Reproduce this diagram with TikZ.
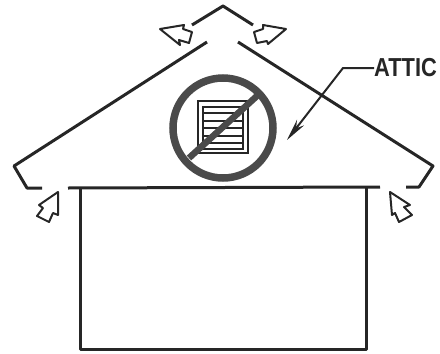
\documentclass[tikz,border=0pt]{standalone}
\usepackage{fontspec}
\setmainfont{Liberation Sans}
\usetikzlibrary{arrows.meta}
\definecolor{ink}{HTML}{262626}
\definecolor{slash}{HTML}{4A4A4A}
\newcommand{\LabelF}{\fontsize{26}{30}\selectfont}
\newcommand{\ventarrow}[1]{%
  \draw[ink, line width=2pt, line join=round] #1 -- cycle;
}
\tikzset{
  wall/.style={ink, line width=3pt, line join=round},
  louver/.style={ink, line width=1.2pt},
}
\begin{document}
\begin{tikzpicture}[x=1pt,y=-1pt]
\useasboundingbox (0,0) rectangle (440,354);
% roof and ridge cap
\draw[wall] (42,188) -- (27,188) -- (14,166) -- (207,42);
\draw[wall] (406,187) -- (419,187) -- (433,166) -- (238,42);
\draw[wall] (192,25) -- (223,6) -- (253,25);
% house
\draw[wall] (68,188) -- (380,187);
\draw[wall] (80,188) -- (80,349) -- (366,349) -- (366,187);
% air flow
\ventarrow{(160,29) -- (184,25) -- (183,29) -- (192,32) -- (189,43) -- (179,40) -- (180,45)}
\ventarrow{(286,29) -- (263,25) -- (263,29) -- (254,32) -- (257,43) -- (267,41) -- (268,44)}
\ventarrow{(58,192) -- (39,205) -- (43,208) -- (37,216) -- (49,222) -- (53,213) -- (58,215)}
\ventarrow{(390,192) -- (410,205) -- (404,207) -- (412,215) -- (399,222) -- (395,213) -- (392,215)}
% gable vent
\draw[ink, line width=1.5pt] (198,101) rectangle (248,153);
\draw[ink, line width=1.5pt] (203,107) rectangle (243,149);
\foreach \y in {113,121,128,136,143}
  \draw[louver] (203,\y) -- (243,\y);
\draw[slash, line width=7.5pt] (223,128) circle (50);
\draw[slash, line width=6.5pt] (189,158) -- (258,95);
% label
\node[anchor=west, font=\LabelF\bfseries, text=ink, xscale=.84, inner sep=0pt] (attic) at (374,68) {ATTIC};
\coordinate (attictip) at (287,140);
\draw[ink, line width=2pt, -{Stealth[length=22pt,width=9pt]}] (attic.west) -- (343,68) -- (attictip);
\end{tikzpicture}
\end{document}
